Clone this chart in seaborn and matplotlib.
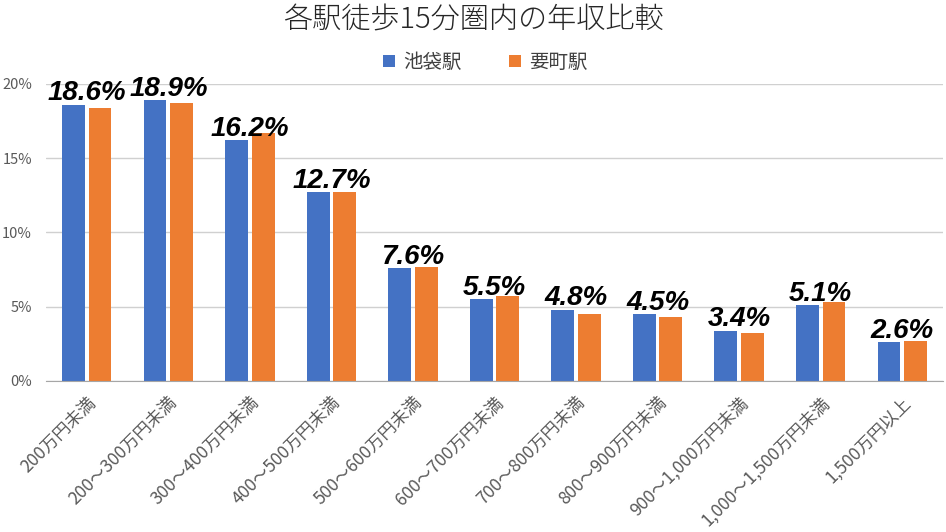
import pandas as pd
import matplotlib.pyplot as plt
import seaborn as sns

# Data (percent)
categories = ['200万円未満', '200～300万円未満', '300～400万円未満', '400～500万円未満',
              '500～600万円未満', '600～700万円未満', '700～800万円未満', '800～900万円未満',
              '900～1,000万円未満', '1,000～1,500万円未満', '1,500万円以上']
ikebukuro = [18.6, 18.9, 16.2, 12.7, 7.6, 5.5, 4.8, 4.5, 3.4, 5.1, 2.6]
kanamecho = [18.4, 18.7, 16.7, 12.7, 7.7, 5.7, 4.5, 4.3, 3.2, 5.3, 2.7]
stations = ['池袋駅', '要町駅']
colors = ['#4472C4', '#ED7D31']

df = pd.DataFrame({
    'category': categories * 2,
    'station': [stations[0]] * len(categories) + [stations[1]] * len(categories),
    'value': ikebukuro + kanamecho,
})

sns.set_style('white')
plt.rcParams['font.family'] = ['Noto Sans CJK JP', 'DejaVu Sans']

fig = plt.figure(figsize=(9.46, 5.32), dpi=100)
ax = fig.add_axes([46 / 946, 151 / 532, 897 / 946, 297 / 532])

sns.barplot(data=df, x='category', y='value', hue='station', palette=colors,
            width=0.65, gap=0.14, ax=ax, saturation=1, linewidth=0)

ax.set_ylim(0, 20)
ax.set_xlim(-0.5, len(categories) - 0.5)
ax.set_yticks([0, 5, 10, 15, 20])
ax.set_yticklabels([f'{t}%' for t in [0, 5, 10, 15, 20]], color='#595959', fontsize=10.5)
ax.yaxis.grid(True, color='#D0D0D0', linewidth=1)
ax.set_axisbelow(True)
ax.set_xlabel('')
ax.set_ylabel('')
ax.set_xticks(range(len(categories)))
ax.set_xticklabels(categories, rotation=45, ha='right', rotation_mode='anchor',
                   color='#595959', fontsize=12.5)
ax.tick_params(axis='x', length=0, pad=9)
ax.tick_params(axis='y', length=0, pad=10)
for side in ['top', 'right', 'left']:
    ax.spines[side].set_visible(False)
ax.spines['bottom'].set_color('#A6A6A6')

# bold italic value labels for the first station, centred on each group
for i, v in enumerate(ikebukuro):
    ax.annotate(f'{v}%', xy=(i, v), xytext=(0, -1), textcoords='offset points',
                ha='center', va='bottom', fontsize=20, fontweight='bold',
                fontstyle='italic', family='Liberation Sans', color='black',
                clip_on=False)

ax.legend(loc='center', bbox_to_anchor=(0.49, 1.072), ncol=2, frameon=False,
          fontsize=14, handlelength=0.6, handleheight=0.6, columnspacing=2.4,
          handletextpad=0.45, labelcolor='#404040')

fig.suptitle('各駅徒歩15分圏内の年収比較', y=0.99, fontsize=21, color='#262626',
             fontweight='light')

fig.savefig('out.png', dpi=100)
